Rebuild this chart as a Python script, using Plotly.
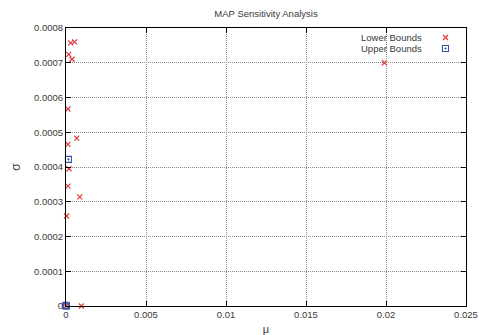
import plotly.graph_objects as go

# Sensitivity results: (mu, sigma) for each parameter bound
lower_mu = [0.00029, 0.00054, 0.00017, 0.000375, 0.000125, 0.000125, 0.00067,
            0.00019, 0.000125, 0.00086, 0.00004, 0.00096, 0.0199, 0.0]
lower_sigma = [0.000757, 0.00076, 0.000724, 0.00071, 0.000567, 0.000465, 0.000483,
               0.000395, 0.000345, 0.000314, 0.000259, 0.0, 0.0007, 0.0]
upper_mu = [0.00015, 0.0, 0.00002, 0.0]
upper_sigma = [0.000422, 0.0, 0.0, 0.000002]

x_ticks = [0, 0.005, 0.01, 0.015, 0.02, 0.025]
x_tick_text = ["0", "0.005", "0.01", "0.015", "0.02", "0.025"]
y_ticks = [0, 0.0001, 0.0002, 0.0003, 0.0004, 0.0005, 0.0006, 0.0007, 0.0008]
y_tick_text = ["0", "0.0001", "0.0002", "0.0003", "0.0004", "0.0005", "0.0006", "0.0007", "0.0008"]

RED = "#e23a3a"
BLUE = "#3552a8"
FONT = "Liberation Sans, Arial, sans-serif"
TXT = "#3a3a3a"

W, H = 479, 335
ML, MR, MT, MB = 66, 13, 28, 29
PW, PH = W - ML - MR, H - MT - MB

RED_MARK = dict(symbol="x-thin-open", size=5, color=RED, line=dict(color=RED, width=1.2))
BLUE_MARK = dict(symbol="square-open-dot", size=6, color=BLUE, line=dict(color=BLUE, width=1.1))

fig = go.Figure()
fig.add_trace(go.Scatter(x=lower_mu, y=lower_sigma, mode="markers", name="Lower Bounds",
                         marker=RED_MARK, cliponaxis=False, showlegend=False))
fig.add_trace(go.Scatter(x=upper_mu, y=upper_sigma, mode="markers", name="Upper Bounds",
                         marker=BLUE_MARK, cliponaxis=False, showlegend=False))

# Opaque key box in the upper right, hiding the grid behind it
fig.add_shape(type="rect", xref="paper", yref="paper", layer="between",
              x0=(355 - ML) / PW, x1=(465 - ML) / PW,
              y0=1 - (58 - MT) / PH, y1=1 - 1 / PH,
              fillcolor="white", line=dict(width=0))

# Key entries: label on the left, sample marker on the right
key_x = (445.5 - ML) / PW
key_y = [1 - (37.5 - MT) / PH, 1 - (48.5 - MT) / PH]
fig.add_trace(go.Scatter(x=[key_x], y=[key_y[0]], xaxis="x2", yaxis="y2", mode="markers",
                         showlegend=False, hoverinfo="skip", cliponaxis=False, marker=RED_MARK))
fig.add_trace(go.Scatter(x=[key_x], y=[key_y[1]], xaxis="x2", yaxis="y2", mode="markers",
                         showlegend=False, hoverinfo="skip", cliponaxis=False, marker=BLUE_MARK))
for label, yy in zip(["Lower Bounds", "Upper Bounds"], key_y):
    fig.add_annotation(x=(424 - ML) / PW, y=yy, xref="x2", yref="y2", text=label, showarrow=False,
                       xanchor="right", yanchor="middle",
                       font=dict(family=FONT, size=9.5, color=TXT))

axis_common = dict(
    showline=True, linecolor="#000000", linewidth=1, mirror="ticks",
    ticks="inside", ticklen=5, tickcolor="#000000", tickwidth=1,
    showgrid=True, gridcolor="#8c8c8c", griddash="1px,1px", gridwidth=1,
    zeroline=False, automargin=False, layer="above traces",
    tickfont=dict(family=FONT, size=9.5, color=TXT),
)
fig.update_layout(
    width=W, height=H,
    margin=dict(l=ML, r=MR, t=MT, b=MB),
    paper_bgcolor="white", plot_bgcolor="white",
    title=dict(text="MAP Sensitivity Analysis", x=(ML + PW / 2) / W, xanchor="center",
               y=1 - 14 / H, yanchor="middle", automargin=False,
               font=dict(family=FONT, size=9.5, color=TXT)),
    xaxis=dict(range=[0, 0.025], tickvals=x_ticks, ticktext=x_tick_text,
               title=dict(text="μ", font=dict(family=FONT, size=11, color=TXT), standoff=6),
               **axis_common),
    yaxis=dict(range=[0, 0.0008], tickvals=y_ticks, ticktext=y_tick_text,
               title=dict(text="σ", font=dict(family=FONT, size=12, color=TXT), standoff=10),
               **axis_common),
    xaxis2=dict(overlaying="x", range=[0, 1], visible=False),
    yaxis2=dict(overlaying="y", range=[0, 1], visible=False),
    showlegend=False,
)

fig.write_html("out.html")
